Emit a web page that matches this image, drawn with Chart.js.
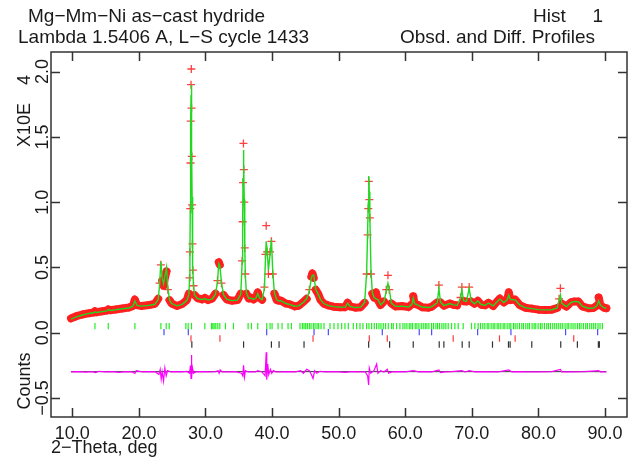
<!DOCTYPE html>
<html>
<head>
<meta charset="utf-8">
<script src="https://cdn.jsdelivr.net/npm/chart.js@4.4.0/dist/chart.umd.min.js"></script>
<style>
  html, body { margin: 0; padding: 0; background: #fff; }
  canvas { display: block; }
</style>
</head>
<body>
<canvas id="rietveld" width="637" height="458"></canvas>
<script>
// 2-theta positions of the profile (deg)
const twoTheta = [
  9.8, 10.5, 11.5, 12.5, 13.2, 13.4, 13.6, 14.5, 15.2, 15.4,
  15.7, 16.5, 17.5, 18.5, 19.1, 19.4, 19.7, 20.4, 21.5, 22.4,
  22.9, 23.1, 23.3, 23.5, 23.7, 23.9, 24.15, 24.35, 24.6, 24.9,
  25.7, 26.5, 27.2, 27.5, 27.6, 27.66, 27.71, 27.75, 27.79, 27.83,
  27.87, 27.91, 27.95, 27.99, 28.04, 28.10, 28.20, 28.35, 28.8, 29.5,
  29.9, 30.4, 31.0, 31.5, 31.8, 32.0, 32.15, 32.4, 32.7, 33.2,
  34.0, 34.8, 35.3, 35.5, 35.58, 35.64, 35.70, 35.76, 35.82, 35.90,
  35.98, 36.15, 36.5, 36.9, 37.2, 37.6, 37.85, 38.1, 38.5, 38.85,
  39.0, 39.12, 39.25, 39.45, 39.7, 39.9, 40.1, 40.35, 40.7, 41.0,
  41.3, 42.0, 42.7, 43.4, 44.0, 44.8, 45.2, 45.6, 45.9, 46.05,
  46.25, 46.55, 46.9, 47.3, 47.8, 48.4, 49.2, 50.2, 51.0, 51.35,
  51.7, 52.5, 53.3, 53.9, 54.2, 54.35, 54.45, 54.52, 54.60, 54.68,
  54.85, 55.05, 55.3, 55.6, 55.9, 56.3, 56.8, 57.15, 57.4, 57.6,
  57.9, 58.5, 59.5, 60.5, 61.0, 61.2, 61.4, 62.0, 62.5, 63.5,
  64.0, 64.8, 65.05, 65.3, 65.8, 66.7, 67.2, 67.8, 68.3, 68.5,
  68.75, 69.2, 69.6, 69.9, 70.4, 70.9, 71.4, 72.0, 72.5, 73.2,
  73.8, 74.2, 74.8, 75.3, 75.55, 75.8, 76.5, 77.2, 78.0, 79.0,
  80.0, 81.0, 82.0, 82.8, 83.1, 83.3, 83.5, 84.2, 84.9, 85.4,
  86.0, 86.6, 87.5, 88.3, 88.8, 89.05, 89.3, 89.8, 90.2
];
// observed counts (x10^4)
const obsCounts = [
  .110, .125, .140, .150, .155, .165, .157, .165, .170, .180,
  .172, .178, .186, .193, .205, .255, .212, .205, .212, .222,
  .260, .380, .520, .400, .360, .420, .470, .330, .250, .225,
  .205, .220, .250, .300, .420, .620, .950, 1.30, 1.62, 1.90,
  2.02, 1.72, 1.35, .980, .680, .480, .360, .290, .265, .255,
  .268, .250, .262, .300, .400, .540, .520, .380, .290, .255,
  .245, .250, .300, .550, .850, 1.15, 1.45, 1.25, 1.00, .650,
  .450, .300, .262, .268, .255, .270, .310, .270, .252, .350,
  .600, .820, .620, .450, .620, .700, .450, .300, .250, .245,
  .248, .225, .217, .202, .207, .242, .260, .330, .430, .455,
  .420, .330, .300, .250, .222, .210, .200, .195, .196, .230,
  .202, .192, .196, .230, .450, .750, .950, 1.16, 1.02, .880,
  .450, .300, .270, .310, .250, .212, .240, .330, .440, .330,
  .225, .202, .205, .196, .220, .280, .222, .212, .196, .192,
  .200, .232, .365, .232, .207, .225, .215, .210, .270, .350,
  .242, .240, .350, .240, .222, .245, .215, .210, .230, .205,
  .240, .262, .232, .250, .310, .250, .255, .212, .192, .185,
  .177, .175, .176, .190, .260, .340, .222, .200, .235, .240,
  .240, .202, .188, .190, .210, .270, .212, .192, .188
];
// calculated counts (x10^4)
const calcCounts = [
  .105, .120, .136, .148, .153, .160, .155, .162, .168, .177,
  .171, .176, .184, .190, .203, .243, .210, .204, .210, .218,
  .255, .360, .545, .420, .375, .430, .500, .340, .252, .224,
  .206, .218, .248, .290, .400, .600, .920, 1.28, 1.60, 1.82,
  1.90, 1.76, 1.42, 1.04, .720, .500, .370, .290, .262, .254,
  .262, .250, .260, .295, .390, .530, .515, .385, .292, .256,
  .246, .250, .295, .540, .860, 1.18, 1.40, 1.30, 1.02, .660,
  .440, .305, .262, .265, .256, .268, .300, .268, .252, .340,
  .560, .700, .640, .480, .600, .715, .470, .305, .252, .243,
  .246, .226, .216, .203, .206, .238, .262, .320, .420, .440,
  .440, .335, .298, .252, .222, .210, .200, .196, .196, .226,
  .202, .193, .196, .232, .460, .780, 1.00, 1.20, 1.08, .900,
  .480, .310, .272, .260, .255, .214, .238, .320, .380, .335,
  .228, .202, .204, .197, .218, .265, .222, .210, .197, .193,
  .200, .230, .340, .234, .208, .224, .214, .210, .265, .330,
  .245, .240, .340, .242, .222, .243, .216, .210, .228, .206,
  .238, .258, .232, .252, .290, .255, .252, .212, .192, .185,
  .177, .175, .176, .190, .250, .290, .225, .200, .232, .240,
  .238, .203, .188, .190, .208, .245, .212, .192, .188
];
// difference curve (offset), own 2-theta grid
const diffTheta = [
  9.8, 11.0, 12.0, 13.0, 13.5, 14.0, 15.0, 16.0, 17.0, 18.0,
  19.0, 19.4, 19.6, 20.5, 21.5, 22.5, 23.0, 23.2, 23.35, 23.5,
  23.7, 23.9, 24.1, 24.3, 24.8, 25.5, 26.5, 27.2, 27.6, 27.75,
  27.83, 27.88, 27.95, 28.05, 28.2, 28.5, 29.5, 30.5, 31.5, 31.9,
  32.05, 32.2, 32.5, 33.5, 34.5, 35.4, 35.6, 35.72, 35.85, 36.0,
  36.4, 37.5, 37.85, 38.5, 38.95, 39.12, 39.2, 39.35, 39.5, 39.75,
  39.95, 40.2, 40.6, 41.5, 42.5, 43.5, 44.3, 44.7, 45.2, 45.6,
  45.9, 46.15, 46.4, 46.7, 47.2, 48.0, 49.0, 50.0, 51.0, 52.0,
  53.0, 54.0, 54.35, 54.5, 54.6, 54.8, 55.3, 55.7, 55.9, 56.3,
  56.8, 57.3, 57.5, 58.0, 59.0, 60.0, 61.2, 62.0, 63.0, 64.0,
  65.05, 65.3, 66.0, 67.0, 68.5, 69.0, 69.6, 70.5, 72.0, 73.0,
  74.0, 75.55, 76.0, 77.0, 78.0, 80.0, 82.0, 83.3, 83.5, 85.0,
  87.0, 89.05, 89.3, 90.2
];
const diffCounts = [
  -.300, -.298, -.302, -.298, -.305, -.295, -.300, -.298, -.303, -.297,
  -.300, -.312, -.290, -.300, -.297, -.300, -.320, -.280, -.355, -.300,
  -.370, -.270, -.330, -.290, -.300, -.297, -.300, -.295, -.310, -.250,
  -.350, -.170, -.340, -.270, -.310, -.300, -.298, -.300, -.297, -.290,
  -.310, -.285, -.300, -.300, -.298, -.310, -.330, -.250, -.340, -.290,
  -.300, -.300, -.290, -.300, -.330, -.150, -.360, -.240, -.320, -.280,
  -.310, -.290, -.300, -.300, -.298, -.300, -.290, -.310, -.280, -.290,
  -.320, -.350, -.290, -.310, -.295, -.300, -.298, -.300, -.303, -.297,
  -.300, -.300, -.330, -.400, -.270, -.310, -.290, -.240, -.310, -.290,
  -.300, -.280, -.310, -.300, -.298, -.300, -.290, -.300, -.298, -.300,
  -.285, -.305, -.300, -.298, -.290, -.300, -.290, -.300, -.298, -.300,
  -.300, -.285, -.300, -.298, -.300, -.300, -.298, -.280, -.300, -.300,
  -.298, -.290, -.300, -.300
];
const diffZero = -0.298;

// reflection markers of the four phases (deg)
const phase1Ticks = [
  13.4, 15.4, 19.4, 23.3, 24.1, 24.55, 27.05, 27.4, 27.9, 29.9, 30.9, 31.1, 31.3, 31.55,
  31.85, 32.15, 33.0, 34.2, 36.4, 36.9, 37.85, 39.2, 39.7, 40.0, 40.9, 41.5, 42.4, 42.9,
  44.2, 44.55, 44.8, 45.05, 45.3, 45.6, 45.85, 46.2, 46.45, 46.75, 47.0, 47.35, 47.8,
  48.7, 49.3, 49.9, 50.45, 50.95, 51.45, 52.2, 52.7, 53.2, 53.65, 54.2, 54.55, 54.95,
  55.35, 55.7, 56.05, 56.35, 56.7, 57.05, 57.45, 57.95, 58.2, 58.7, 59.2, 59.65, 59.95,
  60.25, 60.6, 60.85, 61.1, 61.5, 61.75, 62.05, 62.4, 62.7, 63.0, 63.25, 63.55, 63.95,
  64.25, 64.6, 64.85, 65.15, 65.5, 65.8, 66.1, 66.45, 66.95, 67.45, 67.95, 68.7, 69.95,
  70.45, 70.95, 71.3, 71.65, 71.95, 72.3, 72.55, 72.9, 73.2, 73.45, 73.8, 74.05, 74.35,
  74.7, 74.95, 75.3, 75.6, 75.85, 76.25, 76.5, 76.8, 77.15, 77.5, 77.75, 78.1, 78.4,
  78.65, 79.05, 79.35, 79.6, 79.95, 80.3, 80.55, 80.9, 81.25, 81.5, 81.8, 82.15, 82.45,
  82.75, 83.05, 83.35, 83.65, 84.0, 84.3, 84.55, 84.9, 85.2, 85.5, 85.85, 86.15, 86.4,
  86.75, 87.1, 87.35, 87.7, 88.0, 88.3, 88.6, 88.95, 89.25, 89.6
];
const phase2Ticks = [23.77, 27.42, 39.19, 46.3, 48.45, 56.55, 62.1, 63.96, 70.87, 75.87, 84.08, 88.89];
const phase3Ticks = [27.82, 32.17, 46.15, 54.6, 57.3, 67.2, 74.15, 76.5, 85.3];
const phase4Ticks = [27.95, 35.72, 39.9, 41.05, 44.8, 54.5, 57.65, 61.2, 65.1, 65.8, 68.55,
  69.6, 73.1, 75.5, 75.75, 79.0, 83.35, 85.85, 89.0, 89.15];
const tickRows = [0.051, 0.005, -0.044, -0.090];

// axis ticks
const xTicks = [10, 20, 30, 40, 50, 60, 70, 80, 90];
const yTicks = [2.0, 1.5, 1.0, 0.5, 0.0, -0.5];

const FONT = '"Liberation Sans", Arial, sans-serif';

function pts(xs, ys) {
  return xs.map((x, i) => ({ x: x, y: ys[i] }));
}
function tickPts(xs, row) {
  return xs.map(x => ({ x: x, y: row }));
}
function tickSet(xs, row, color) {
  return {
    data: tickPts(xs, row),
    showLine: false,
    pointStyle: 'line',
    rotation: 90,
    pointRadius: 3.2,
    pointBorderWidth: 1.2,
    pointBorderColor: color,
    pointBackgroundColor: color,
    order: 5
  };
}

const frame = {
  id: 'frame',
  afterDatasetsDraw(chart) {
    const { ctx, chartArea: a, scales: { x, y } } = chart;
    ctx.save();
    ctx.strokeStyle = '#333';
    ctx.lineWidth = 1.5;
    ctx.strokeRect(a.left, a.top, a.right - a.left, a.bottom - a.top);
    ctx.beginPath();
    xTicks.forEach(v => {
      const px = Math.round(x.getPixelForValue(v)) + 0.5;
      ctx.moveTo(px, a.bottom); ctx.lineTo(px, a.bottom - 9);
      ctx.moveTo(px, a.top); ctx.lineTo(px, a.top + 9);
    });
    yTicks.forEach(v => {
      const py = Math.round(y.getPixelForValue(v)) + 0.5;
      ctx.moveTo(a.left, py); ctx.lineTo(a.left + 9, py);
      ctx.moveTo(a.right, py); ctx.lineTo(a.right - 9, py);
    });
    ctx.stroke();

    ctx.fillStyle = '#1a1a1a';
    ctx.font = '18px ' + FONT;
    ctx.textAlign = 'center';
    ctx.textBaseline = 'middle';
    xTicks.forEach(v => {
      ctx.fillText(v.toFixed(1), x.getPixelForValue(v), 434);
    });
    yTicks.forEach(v => {
      ctx.save();
      ctx.translate(43, y.getPixelForValue(v));
      ctx.rotate(-Math.PI / 2);
      ctx.fillText(v.toFixed(1).replace('-', '\u2212'), 0, 0);
      ctx.restore();
    });
    [['X10E', 125], ['4', 80], ['Counts', 381]].forEach(([t, cy]) => {
      ctx.save();
      ctx.translate(25, cy);
      ctx.rotate(-Math.PI / 2);
      ctx.fillText(t, 0, 0);
      ctx.restore();
    });
    ctx.textAlign = 'left';
    ctx.fillText('2\u2212Theta, deg', 51, 448);

    ctx.font = '19px ' + FONT;
    ctx.fillText('Mg\u2212Mm\u2212Ni as\u2212cast hydride', 28, 17);
    ctx.fillText('Lambda 1.5406 A, L\u2212S cycle 1433', 18, 38);
    ctx.fillText('Hist', 533, 17);
    ctx.textAlign = 'right';
    ctx.fillText('1', 603, 17);
    ctx.fillText('Obsd. and Diff. Profiles', 595, 38);
    ctx.restore();
  }
};

new Chart(document.getElementById('rietveld'), {
  type: 'scatter',
  data: {
    datasets: [
      {
        label: 'Calc',
        data: pts(twoTheta, calcCounts),
        showLine: true,
        borderColor: '#1fd81f',
        borderWidth: 1.4,
        pointRadius: 0,
        order: 1
      },
      {
        label: 'Obs',
        data: pts(twoTheta, obsCounts),
        showLine: true,
        borderColor: '#ff2020',
        borderWidth: 8,
        borderJoinStyle: 'round',
        borderCapStyle: 'round',
        segment: {
          borderColor: c => Math.abs(c.p1.parsed.y - c.p0.parsed.y) > 0.06 ? 'rgba(0,0,0,0)' : undefined
        },
        pointStyle: 'cross',
        pointRadius: 4,
        pointBorderWidth: 1.3,
        pointBorderColor: 'rgba(255,30,30,0.85)',
        order: 2
      },
      {
        label: 'Diff',
        data: pts(diffTheta, diffCounts),
        showLine: true,
        borderColor: '#ff00ff',
        borderWidth: 1.2,
        pointRadius: 0,
        order: 1
      },
      {
        label: 'Zero',
        data: [{ x: diffTheta[0], y: diffZero }, { x: diffTheta[diffTheta.length - 1], y: diffZero }],
        showLine: true,
        borderColor: '#333',
        borderWidth: 1,
        pointRadius: 0,
        order: 3
      },
      tickSet(phase1Ticks, tickRows[0], '#22ee22'),
      tickSet(phase2Ticks, tickRows[1], '#4a4aff'),
      tickSet(phase3Ticks, tickRows[2], '#ff3a3a'),
      tickSet(phase4Ticks, tickRows[3], '#333')
    ]
  },
  options: {
    responsive: false,
    animation: false,
    events: [],
    devicePixelRatio: 1,
    layout: { padding: { left: 51, right: 10, top: 52, bottom: 41 } },
    scales: {
      x: { type: 'linear', min: 6.8, max: 93.3, display: false },
      y: { type: 'linear', min: -0.645, max: 2.15, display: false }
    },
    plugins: { legend: { display: false }, tooltip: { enabled: false } }
  },
  plugins: [frame]
});
</script>
</body>
</html>
